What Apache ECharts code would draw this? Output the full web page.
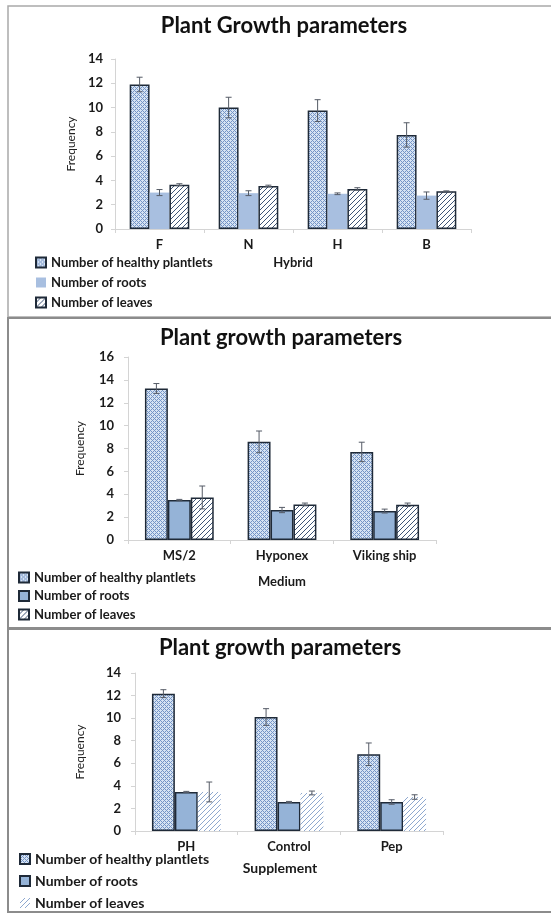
<!DOCTYPE html>
<html>
<head>
<meta charset="utf-8">
<script src="https://cdn.jsdelivr.net/npm/echarts@6/dist/echarts.min.js"></script>
<style>
html,body{margin:0;padding:0;background:#fff;}
#chart{width:551px;height:913px;}
</style>
</head>
<body>
<div id="chart"></div>
<script>
// panel 1 : hybrid
var hybridCats = ['F', 'N', 'H', 'B'];
var hybridHealthy = [11.9, 10.0, 9.75, 7.75];
var hybridHealthyErr = [0.6, 0.85, 0.9, 1.0];
var hybridRoots = [3.0, 2.95, 2.9, 2.75];
var hybridRootsErr = [0.25, 0.2, 0.07, 0.3];
var hybridLeaves = [3.65, 3.55, 3.3, 3.1];
var hybridLeavesErr = [0.08, 0.06, 0.1, 0.04];

// panel 2 : medium
var mediumCats = ['MS/2', 'Hyponex', 'Viking ship'];
var mediumHealthy = [13.25, 8.58, 7.7];
var mediumHealthyErr = [0.43, 0.95, 0.85];
var mediumRoots = [3.49, 2.62, 2.53];
var mediumRootsErr = [0.06, 0.23, 0.17];
var mediumLeaves = [3.72, 3.11, 3.08];
var mediumLeavesErr = [1.0, 0.12, 0.15];

// panel 3 : supplement
var suppCats = ['PH', 'Control', 'Pep'];
var suppHealthy = [12.17, 10.1, 6.8];
var suppHealthyErr = [0.35, 0.74, 1.0];
var suppRoots = [3.46, 2.57, 2.57];
var suppRootsErr = [0.05, 0.05, 0.2];
var suppLeaves = [3.46, 3.37, 3.01];
var suppLeavesErr = [0.88, 0.17, 0.2];

var titles = ['Plant Growth parameters', 'Plant growth parameters', 'Plant growth parameters'];
var xNames = ['Hybrid', 'Medium', 'Supplement'];
var yMax = [14, 16, 14];
var legendLabels = ['Number of healthy plantlets', 'Number of roots', 'Number of leaves'];

var FONT = 'Lato';
var GAP = 0.33;

// diamond crosshatch for the healthy plantlets bars
function crosshatch(dark, light) {
    var c = document.createElement('canvas');
    c.width = 4; c.height = 4;
    var g = c.getContext('2d');
    g.fillStyle = light; g.fillRect(0, 0, 4, 4);
    g.fillStyle = dark;
    [[0,0],[1,1],[2,2],[3,3],[1,3],[3,1]].forEach(function (p) { g.fillRect(p[0], p[1], 1, 1); });
    return {image: c, repeat: 'repeat'};
}
function hatch(line, bg) {
    var c = document.createElement('canvas');
    c.width = 5; c.height = 5;
    var g = c.getContext('2d');
    g.fillStyle = bg; g.fillRect(0, 0, 5, 5);
    g.strokeStyle = line; g.lineWidth = 1;
    g.beginPath();
    g.moveTo(-1, 6); g.lineTo(6, -1);
    g.moveTo(-1, 1); g.lineTo(1, -1);
    g.moveTo(4, 6); g.lineTo(6, 4);
    g.stroke();
    return {image: c, repeat: 'repeat'};
}

var healthyFill = crosshatch('#7494c6', '#d6e3f3');
var leavesFill = hatch('#3f5577', '#ffffff');
var leavesFillLight = hatch('#8ea8cf', '#ffffff');
var edge = '#1f2a38';

var grids = [
    {left: 115, top: 59, width: 356, height: 170},
    {left: 128, top: 357, width: 308, height: 183},
    {left: 135, top: 673, width: 308, height: 158}
];
var titleX = [284, 281, 280], titleTop = [15, 327, 637];
var legendLeft = [35, 18, 19], legendTop = [256, 571, 852], legendGap = [7, 5.5, 8];
var xNameGap = [27, 35, 30], yNameGap = [36, 42, 49], labelMargin = [12, 14, 14];

var option = {
    backgroundColor: '#fff',
    animation: false,
    title: [], legend: [], grid: grids, xAxis: [], yAxis: [], series: [],
    graphic: [
        {type: 'rect', shape: {x: 8, y: 6, width: 560, height: 311}, style: {fill: 'none', stroke: '#a9a9a9', lineWidth: 1.5}},
        {type: 'rect', shape: {x: 8, y: 318, width: 560, height: 310}, style: {fill: 'none', stroke: '#8c8c8c', lineWidth: 2}},
        {type: 'rect', shape: {x: 8, y: 629, width: 560, height: 283}, style: {fill: 'none', stroke: '#8c8c8c', lineWidth: 2}}
    ]
};

function errSeries(k, vals, errs, offset) {
    return {
        type: 'custom', xAxisIndex: k, yAxisIndex: k, z: 10, silent: true,
        data: vals.map(function (v, i) { return [i, v, errs[i]]; }),
        encode: {x: 0, y: 1},
        renderItem: function (params, api) {
            var i = api.value(0), v = api.value(1), e = api.value(2);
            var band = api.size([1, 0])[0];
            var bw = band * (1 - GAP) / 3;
            var hi = api.coord([i, v + e]), lo = api.coord([i, v - e]);
            var x = hi[0] + offset * bw;
            var st = {stroke: '#555b66', lineWidth: 1};
            return {type: 'group', children: [
                {type: 'line', shape: {x1: x, y1: hi[1], x2: x, y2: lo[1]}, style: st},
                {type: 'line', shape: {x1: x - 3, y1: hi[1], x2: x + 3, y2: hi[1]}, style: st},
                {type: 'line', shape: {x1: x - 3, y1: lo[1], x2: x + 3, y2: lo[1]}, style: st}
            ]};
        }
    };
}

var panels = [
    {cats: hybridCats, h: hybridHealthy, he: hybridHealthyErr, r: hybridRoots, re: hybridRootsErr, l: hybridLeaves, le: hybridLeavesErr},
    {cats: mediumCats, h: mediumHealthy, he: mediumHealthyErr, r: mediumRoots, re: mediumRootsErr, l: mediumLeaves, le: mediumLeavesErr},
    {cats: suppCats, h: suppHealthy, he: suppHealthyErr, r: suppRoots, re: suppRootsErr, l: suppLeaves, le: suppLeavesErr}
];

var nameMap = {};
panels.forEach(function (p, k) {
    var names = ['healthy' + k, 'roots' + k, 'leaves' + k];
    names.forEach(function (n, j) { nameMap[n] = legendLabels[j]; });

    option.title.push({
        text: titles[k], left: titleX[k], top: titleTop[k], textAlign: 'center', padding: 0,
        textStyle: {fontFamily: FONT, fontWeight: 'bold', fontSize: 22, color: '#111'}
    });
    option.legend.push({
        orient: 'vertical', left: legendLeft[k], top: legendTop[k], padding: 0,
        itemGap: legendGap[k], itemWidth: 10, itemHeight: 10, icon: 'rect',
        data: names, selectedMode: false,
        formatter: function (n) { return nameMap[n]; },
        textStyle: {fontFamily: FONT, fontWeight: 'bold', fontSize: k === 2 ? 14 : 13, color: '#1a1a1a'}
    });
    option.xAxis.push({
        type: 'category', gridIndex: k, data: p.cats,
        name: xNames[k], nameLocation: 'middle', nameGap: xNameGap[k],
        nameTextStyle: {fontFamily: FONT, fontWeight: 'bold', fontSize: k === 2 ? 14 : 13, color: '#1a1a1a',
            padding: k === 2 ? [0, 18, 0, 0] : 0},
        axisLine: {lineStyle: {color: '#d4d4d4', width: 1}},
        axisTick: {show: true, length: 4, lineStyle: {color: '#d4d4d4'}},
        axisLabel: {fontFamily: FONT, fontWeight: 'bold', fontSize: 13, color: '#1a1a1a', margin: 9}
    });
    option.yAxis.push({
        type: 'value', gridIndex: k, min: 0, max: yMax[k], interval: 2,
        name: 'Frequency', nameLocation: 'middle', nameGap: yNameGap[k],
        nameTextStyle: {fontFamily: FONT, fontSize: 12, color: '#222'},
        axisLine: {show: true, lineStyle: {color: '#d4d4d4', width: 1}},
        axisTick: {show: true, length: 4, lineStyle: {color: '#d4d4d4'}},
        splitLine: {show: false},
        axisLabel: {fontFamily: FONT, fontWeight: 'bold', fontSize: 13, color: '#1a1a1a', margin: labelMargin[k]}
    });

    var rootStyle = k === 0
        ? {color: '#a8bfe0', borderWidth: 0}
        : {color: '#95b3d7', borderColor: edge, borderWidth: 1.5};
    var leafStyle = k === 2
        ? {color: leavesFillLight, borderWidth: 0}
        : {color: leavesFill, borderColor: edge, borderWidth: 1.5};

    option.series.push(
        {type: 'bar', name: names[0], xAxisIndex: k, yAxisIndex: k, data: p.h, barGap: '0%', barCategoryGap: '33%',
            itemStyle: {color: healthyFill, borderColor: edge, borderWidth: 1.5}},
        {type: 'bar', name: names[1], xAxisIndex: k, yAxisIndex: k, data: p.r, itemStyle: rootStyle},
        {type: 'bar', name: names[2], xAxisIndex: k, yAxisIndex: k, data: p.l, itemStyle: leafStyle},
        errSeries(k, p.h, p.he, -1),
        errSeries(k, p.r, p.re, 0),
        errSeries(k, p.l, p.le, 1)
    );
});

var chart = echarts.init(document.getElementById('chart'), null, {renderer: 'canvas'});
chart.setOption(option);
</script>
</body>
</html>
